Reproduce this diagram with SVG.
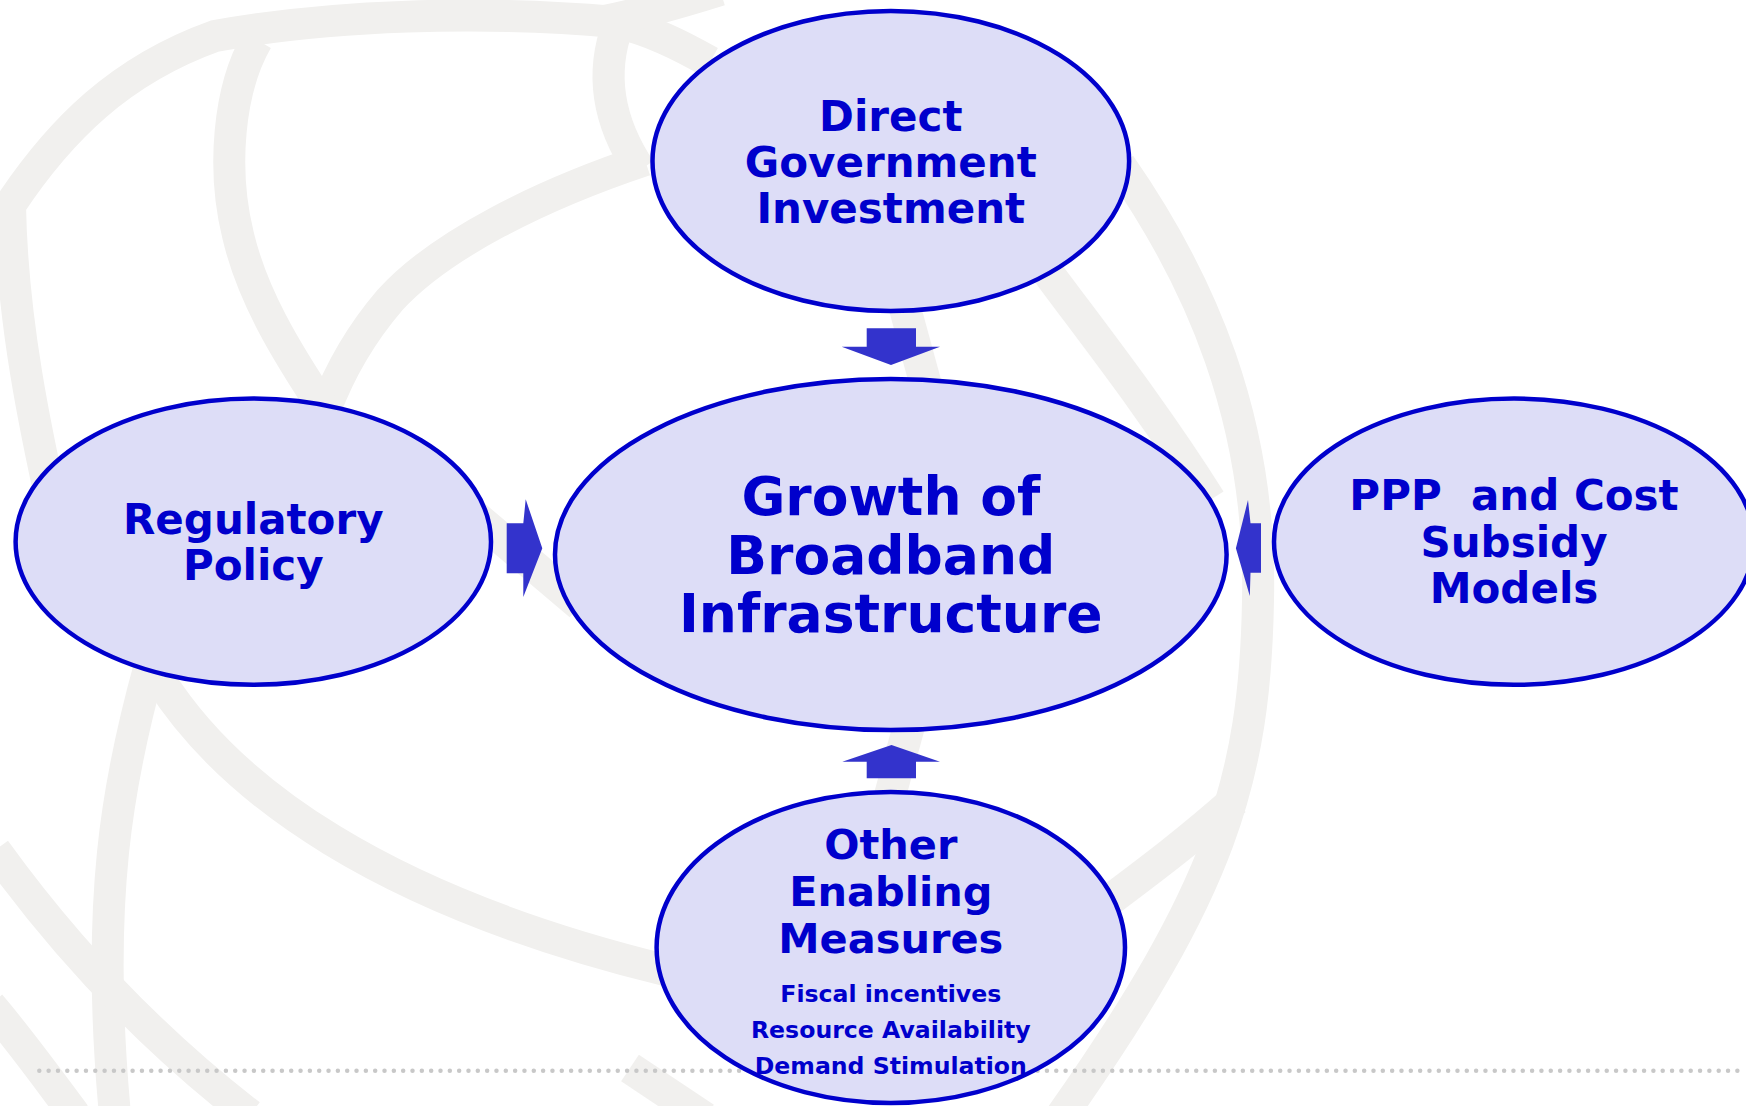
<svg xmlns="http://www.w3.org/2000/svg" width="1746" height="1106" viewBox="0 0 1746 1106">
<style>
.bg{fill:none;stroke:#F1F0EE;stroke-width:32;}
.node{fill:#DDDDF7;stroke:#0000CC;stroke-width:4.5;}
.lbl{font-family:"DejaVu Sans",Verdana,sans-serif;font-weight:bold;fill:#0000CC;text-anchor:middle;}
.arrow{fill:#3333CC;stroke:none;}
</style>
<rect x="0" y="0" width="1746" height="1106" fill="#FFFFFF"/>
<g id="background">
<path class="bg" d="M 60,540 C 35,430 12,320 10,205 C 60,130 120,70 215,36 C 330,15 480,10 615,22 C 650,30 680,45 710,62"/>
<path class="bg" d="M 600,22 Q 650,12 720,-10"/>
<path class="bg" d="M 618,25 C 605,60 600,110 640,170"/>
<path class="bg" d="M 645,160 C 540,195 440,245 390,300 C 360,335 340,370 325,410"/>
<path class="bg" d="M 257,40 C 228,90 222,170 238,235 C 252,295 285,350 325,410"/>
<path class="bg" d="M 1040,262 C 1090,330 1150,405 1210,500"/>
<path class="bg" d="M 1120,165 C 1200,280 1262,420 1258,600 C 1255,780 1220,890 1062,1115"/>
<path class="bg" d="M 1235,800 C 1190,840 1150,870 1110,900"/>
<path class="bg" d="M 150,665 C 118,780 95,900 115,1115"/>
<path class="bg" d="M 160,680 C 230,790 380,900 665,970"/>
<path class="bg" d="M -5,850 C 60,940 140,1030 250,1115"/>
<path class="bg" d="M -10,1005 C 20,1040 45,1075 75,1115"/>
<path class="bg" d="M 900,290 L 930,400"/>
<path class="bg" d="M 912,715 L 886,810"/>
<path class="bg" d="M 470,512 L 580,605"/>
<path class="bg" d="M 630,1068 L 705,1118"/>
</g>
<line id="footer-dots" x1="39.3" y1="1070.7" x2="1746" y2="1070.7" stroke="#C8C8C8" stroke-width="4.5" stroke-linecap="round" stroke-dasharray="0 9.33"/>
<g id="connectors">
<polygon class="arrow" points="866.7,328.3 916,328.3 916,346.7 940,346.7 891,365 841.7,346.7 866.7,346.7"/>
<polygon class="arrow" points="891.5,745 940,761.7 916,761.7 916,778.3 866.7,778.3 866.7,761.7 842.3,761.7"/>
<polygon class="arrow" points="506.7,523.3 523.3,523.3 525.7,499.3 542.3,548.3 523.3,597 523.3,573.3 506.7,573.3"/>
<polygon class="arrow" points="1235.9,548.3 1248,500 1250.5,523.3 1261,523.3 1261,572.7 1250.5,572.7 1249.8,596"/>
</g>
<g id="node-direct">
<ellipse class="node" cx="890.8" cy="161" rx="238.3" ry="150"/>
<text class="lbl" font-size="42" x="890.8" y="130.5">Direct</text>
<text class="lbl" font-size="42" x="890.8" y="176.5">Government</text>
<text class="lbl" font-size="42" x="890.8" y="222.5">Investment</text>
</g>
<g id="node-regulatory">
<ellipse class="node" cx="253.3" cy="541.7" rx="237.7" ry="143.1"/>
<text class="lbl" font-size="42" x="253.3" y="534">Regulatory</text>
<text class="lbl" font-size="42" x="253.3" y="580">Policy</text>
</g>
<g id="node-ppp">
<ellipse class="node" cx="1514" cy="541.7" rx="240" ry="143.1"/>
<text class="lbl" font-size="42" x="1514" y="510" xml:space="preserve">PPP  and Cost</text>
<text class="lbl" font-size="42" x="1514" y="556.5">Subsidy</text>
<text class="lbl" font-size="42" x="1514" y="603">Models</text>
</g>
<g id="node-growth">
<ellipse class="node" cx="890.8" cy="554.5" rx="335.8" ry="175.5"/>
<text class="lbl" font-size="53.5" x="890.8" y="515">Growth of</text>
<text class="lbl" font-size="53.5" x="890.8" y="574">Broadband</text>
<text class="lbl" font-size="53.5" x="890.8" y="632">Infrastructure</text>
</g>
<g id="node-other">
<ellipse class="node" cx="890.8" cy="947.5" rx="234.2" ry="155.5"/>
<text class="lbl" font-size="41.5" x="890.8" y="859.3">Other</text>
<text class="lbl" font-size="41.5" x="890.8" y="906">Enabling</text>
<text class="lbl" font-size="41.5" x="890.8" y="952.7">Measures</text>
<text class="lbl" font-size="23.6" x="890.8" y="1001.7">Fiscal incentives</text>
<text class="lbl" font-size="23.6" x="890.8" y="1038">Resource Availability</text>
<text class="lbl" font-size="23.6" x="890.8" y="1074">Demand Stimulation</text>
</g>
</svg>
